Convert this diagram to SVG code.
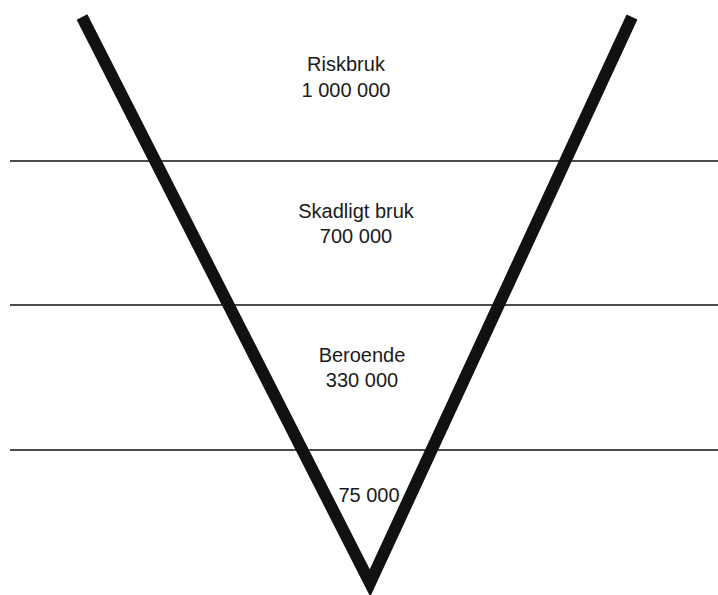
<svg xmlns="http://www.w3.org/2000/svg" width="718" height="595" viewBox="0 0 718 595">
<style>
.t{font-family:"Liberation Sans",Arial,sans-serif;font-size:20px;fill:#1a1a1a;text-anchor:middle}
.h{stroke:#111;stroke-width:1.4;fill:none}
.v{stroke:#111;stroke-width:12;fill:none;stroke-linejoin:miter;stroke-miterlimit:10}
</style>
<rect width="718" height="595" fill="#fff"/>
<g id="lines">
<line class="h" x1="10" y1="161" x2="718" y2="161"/>
<line class="h" x1="10" y1="305" x2="718" y2="305"/>
<line class="h" x1="10" y1="450" x2="718" y2="450"/>
</g>
<g id="funnel">
<polyline class="v" points="82,17 370,583 632,17"/>
</g>
<g id="riskbruk"><text class="t" x="346" y="71">Riskbruk</text><text class="t" x="346" y="97">1 000 000</text></g>
<g id="skadligt"><text class="t" x="356" y="218">Skadligt bruk</text><text class="t" x="356" y="243">700 000</text></g>
<g id="beroende"><text class="t" x="362" y="362">Beroende</text><text class="t" x="362" y="387">330 000</text></g>
<g id="bottom"><text class="t" x="369" y="502">75 000</text></g>
</svg>
